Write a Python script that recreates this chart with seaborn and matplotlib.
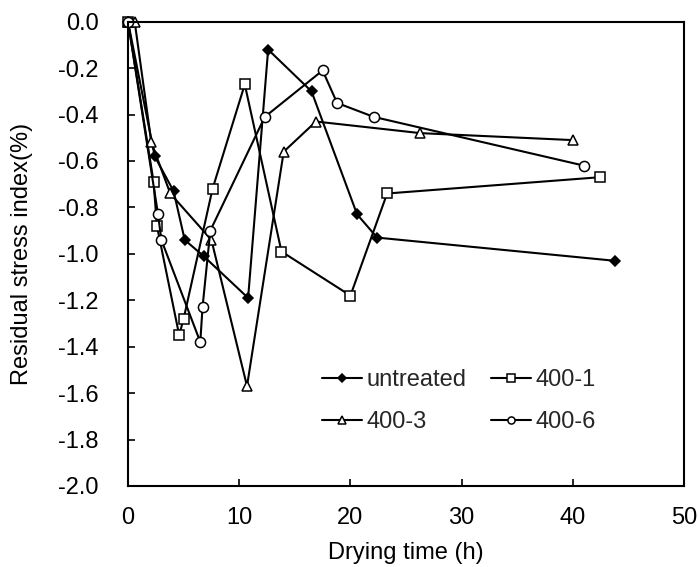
import numpy as np
import pandas as pd
import matplotlib
matplotlib.use("Agg")
import matplotlib.pyplot as plt
from matplotlib.ticker import FormatStrFormatter, MultipleLocator
import seaborn as sns

# Drying time (h) and residual stress index (%) per treatment
series_names = ["untreated", "400-1", "400-3", "400-6"]

x_untreated = [0, 2.4, 4.1, 5.1, 6.8, 10.8, 12.6, 16.5, 20.6, 22.4, 43.8]
y_untreated = [0, -0.58, -0.73, -0.94, -1.01, -1.19, -0.12, -0.30, -0.83, -0.93, -1.03]

x_400_1 = [0, 2.3, 2.6, 4.6, 5.0, 7.6, 10.5, 13.8, 20.0, 23.3, 42.4]
y_400_1 = [0, -0.69, -0.88, -1.35, -1.28, -0.72, -0.27, -0.99, -1.18, -0.74, -0.67]

x_400_3 = [0, 0.6, 2.1, 3.8, 7.5, 10.7, 14.0, 16.9, 26.3, 40.0]
y_400_3 = [0, 0, -0.52, -0.74, -0.94, -1.57, -0.56, -0.43, -0.48, -0.51]

x_400_6 = [0, 2.7, 3.0, 6.5, 6.7, 7.4, 12.3, 17.5, 18.8, 22.1, 41.0]
y_400_6 = [0, -0.83, -0.94, -1.38, -1.23, -0.90, -0.41, -0.21, -0.35, -0.41, -0.62]

xs = [x_untreated, x_400_1, x_400_3, x_400_6]
ys = [y_untreated, y_400_1, y_400_3, y_400_6]

sns.set_theme(style="white")
plt.rcParams["font.family"] = ["Liberation Sans", "DejaVu Sans"]
plt.rcParams["axes.unicode_minus"] = False

fig = plt.figure(figsize=(6.98, 5.67), dpi=100)
ax = fig.add_axes([0.1834, 0.1429, 0.7966, 0.8188])

# marker style per series
styles = {
    "untreated": dict(marker="D", markersize=5.6, markerfacecolor="black"),
    "400-1": dict(marker="s", markersize=7.5, markerfacecolor="white"),
    "400-3": dict(marker="^", markersize=7.5, markerfacecolor="white"),
    "400-6": dict(marker="o", markersize=7.3, markerfacecolor="white"),
}

for name, x, y in zip(series_names, xs, ys):
    df = pd.DataFrame({"time": x, "stress": y})
    sns.lineplot(data=df, x="time", y="stress", ax=ax, sort=False, estimator=None,
                 color="black", linewidth=1.5, markeredgecolor="black",
                 markeredgewidth=1.1, clip_on=False, label=name, **styles[name])

ax.set_xlim(0, 50)
ax.set_ylim(-2.0, 0.0)
ax.xaxis.set_major_locator(MultipleLocator(10))
ax.yaxis.set_major_locator(MultipleLocator(0.2))
ax.yaxis.set_major_formatter(FormatStrFormatter("%.1f"))

for s in ax.spines.values():
    s.set_visible(True)
    s.set_color("black")
    s.set_linewidth(1.5)

ax.tick_params(axis="both", direction="in", length=5, width=1.2, color="black",
               labelsize=17, labelcolor="black")
ax.tick_params(axis="x", pad=15, top=False, bottom=True)
ax.tick_params(axis="y", pad=21, left=True, right=False)

ax.set_xlabel("Drying time (h)", fontsize=17, color="black")
ax.set_ylabel("Residual stress index(%)", fontsize=17, color="black")
ax.xaxis.set_label_coords(0.5, -0.12)
ax.yaxis.set_label_coords(-0.171, 0.5)

# legend rows: untreated / 400-1, then 400-3 / 400-6
handles, labels = ax.get_legend_handles_labels()
order = [0, 2, 1, 3]
ax.legend([handles[i] for i in order], [labels[i] for i in order],
          ncol=2, frameon=False, fontsize=17, loc="upper left",
          bbox_to_anchor=(0.349, 0.252), borderaxespad=0, borderpad=0,
          handlelength=1.7, handletextpad=0.17, columnspacing=1.06,
          labelspacing=0.85, markerscale=0.7)

fig.savefig("out.png", dpi=100, facecolor="white")
